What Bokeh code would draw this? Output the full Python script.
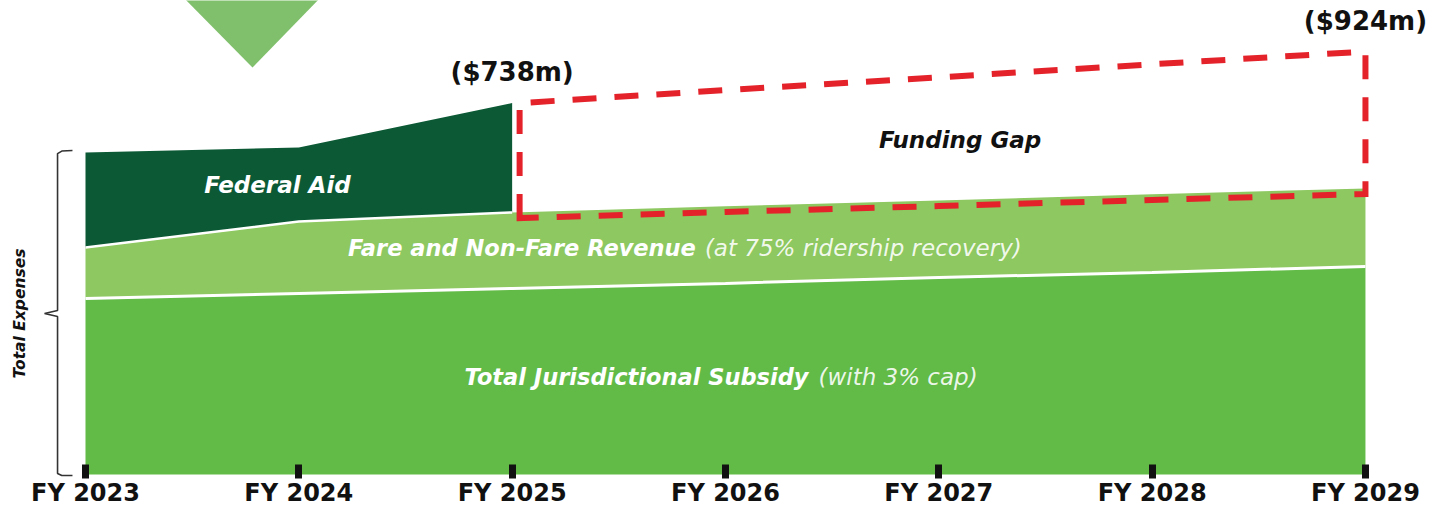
import math
from bokeh.plotting import figure
from bokeh.models import Range1d, FixedTicker, ColumnDataSource
from bokeh.core.properties import value
from bokeh.embed import file_html
from bokeh.resources import INLINE

# ---------------- data ($ millions) ----------------
years = [2023, 2024, 2025, 2026, 2027, 2028, 2029]
tick_labels = ["FY 2023", "FY 2024", "FY 2025", "FY 2026", "FY 2027", "FY 2028", "FY 2029"]
jurisdictional_subsidy = [1188, 1222, 1256, 1290, 1330, 1364, 1404]
fare_revenue = [344, 486, 513, 520, 520, 527, 527]
federal_years = [2023, 2024, 2025]
federal_aid = [641, 500, 738]
gap_years = [2025, 2026, 2027, 2028, 2029]
funding_gap = [738, 785, 831, 878, 924]

# ---------------- derived stacks ----------------
sub_top = list(jurisdictional_subsidy)
fare_top = [s + f for s, f in zip(sub_top, fare_revenue)]
fed_base = fare_top[:len(federal_years)]
fed_top = [b + f for b, f in zip(fed_base, federal_aid)]
gap_base = fare_top[years.index(gap_years[0]):]
gap_top = [b + g for b, g in zip(gap_base, funding_gap)]

FONT = value("DejaVu Sans")
C_SUB = "#62bb47"
C_FARE = "#8dc860"
C_FED = "#0c5a35"
C_RED = "#e4222a"
C_TRI = "#80c06c"

p = figure(width=1429, height=508,
           x_range=Range1d(2022.6016, 2029.3002),
           y_range=Range1d(-229.5, 3199.5),
           output_backend="svg", toolbar_location=None,
           min_border=0, outline_line_color=None)
p.grid.visible = False
p.yaxis.visible = False
p.background_fill_color = "white"
p.border_fill_color = "white"

# decorative arrow at top
p.patch([2023.4453, 2024.1156, 2023.7828], [3240, 3240, 2747],
        fill_color=C_TRI, line_color=None)

# stacked areas
src = ColumnDataSource(dict(x=years, sub=sub_top, fare=fare_top))
p.varea(x="x", y1=0, y2="sub", source=src, fill_color=C_SUB)
p.varea(x="x", y1="sub", y2="fare", source=src, fill_color=C_FARE)
fsrc = ColumnDataSource(dict(x=federal_years, b=fed_base, t=fed_top))
p.varea(x="x", y1="b", y2="t", source=fsrc, fill_color=C_FED)

# white separators
p.line(years, sub_top, line_color="white", line_width=3)
p.line(federal_years, fed_base, line_color="white", line_width=2.5)

# funding gap dashed box
dx = 0.035
inset = 38
gx = [gap_years[0] + dx] + [gap_years[0] + dx] + gap_years[1:] + [gap_years[-1]] + gap_years[::-1][1:-1] + [gap_years[0] + dx]
gy = [gap_base[0] - inset] + gap_top + [gap_base[-1] - inset] + [b - inset for b in gap_base[::-1][1:-1]] + [gap_base[0] - inset]
p.patch(gx, gy, fill_color=None, line_color=C_RED, line_width=6,
        line_dash="24 18", line_join="miter")

# gap value labels
p.text(x=[gap_years[0], gap_years[-1]], y=[gap_top[0], gap_top[-1]],
       text=[f"(${funding_gap[0]}m)", f"(${funding_gap[-1]}m)"],
       text_font=FONT, text_font_style="bold", text_font_size="26px",
       text_color="#111111", text_align="center", text_baseline="middle",
       y_offset=-31)

# band labels
p.text(x=[2023.90], y=[1951], text=["Federal Aid"], text_font=FONT,
       text_font_style="bold italic", text_font_size="23px", text_color="white",
       text_align="center", text_baseline="middle")
p.text(x=[2027.10], y=[2255], text=["Funding Gap"], text_font=FONT,
       text_font_style="bold italic", text_font_size="23px", text_color="#111111",
       text_align="center", text_baseline="middle")
p.text(x=[2025.880], y=[1526], text=["Fare and Non-Fare Revenue"], text_font=FONT,
       text_font_style="bold italic", text_font_size="22.5px", text_color="white",
       text_align="right", text_baseline="middle", x_offset=-4)
p.text(x=[2025.880], y=[1526], text=["(at 75% ridership recovery)"], text_font=FONT,
       text_font_style="italic", text_font_size="23px", text_color="white",
       text_alpha=0.9, text_align="left", text_baseline="middle", x_offset=5)
p.text(x=[2026.4125], y=[655], text=["Total Jurisdictional Subsidy"], text_font=FONT,
       text_font_style="bold italic", text_font_size="22.5px", text_color="white",
       text_align="right", text_baseline="middle", x_offset=-5)
p.text(x=[2026.4125], y=[655], text=["(with 3% cap)"], text_font=FONT,
       text_font_style="italic", text_font_size="23px", text_color="white",
       text_alpha=0.9, text_align="left", text_baseline="middle", x_offset=5)

# Total Expenses brace
T = fed_top[0]
B = 0
M = (T + B) / 2
xv, xh, xt = 2022.869, 2022.939, 2022.808
px = 6.75
bx = [xh, xv + 0.02, xv, xv, xt, xv, xv, xv + 0.02, xh]
by = [T + 2 * px, T + 1.5 * px, T - 1 * px, M + 3 * px, M, M - 3 * px, B + 1 * px, B - 1 * px, B - 1 * px]
p.line(bx, by, line_color="#333333", line_width=1.6)
p.text(x=[2022.693], y=[M], text=["Total Expenses"], text_font=FONT,
       text_font_style="bold italic", text_font_size="15.5px", text_color="#111111",
       text_align="center", text_baseline="middle", angle=math.pi / 2)

# x axis
ax = p.xaxis[0]
ax.fixed_location = 0
ax.ticker = FixedTicker(ticks=years)
ax.major_label_overrides = {y: l for y, l in zip(years, tick_labels)}
ax.major_label_text_font = "DejaVu Sans"
ax.major_label_text_font_style = "bold"
ax.major_label_text_font_size = "24px"
ax.major_label_text_color = "#111111"
ax.major_label_standoff = 0
ax.axis_line_color = None
ax.major_tick_line_color = "#111111"
ax.major_tick_line_width = 7
ax.major_tick_in = 10
ax.major_tick_out = 4
ax.minor_tick_line_color = None

open("out.html", "w").write(file_html(p, INLINE))
